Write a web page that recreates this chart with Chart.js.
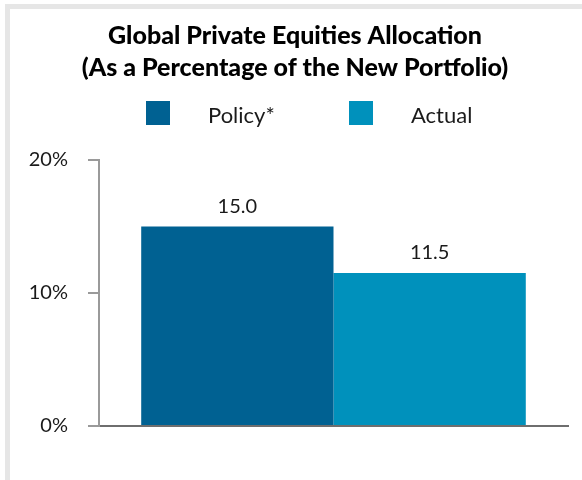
<!DOCTYPE html>
<html>
<head>
<meta charset="utf-8">
<script src="https://cdn.jsdelivr.net/npm/chart.js@4"></script>
<style>
  body { margin: 0; background: #fff; }
  .frame { position: absolute; left: 5px; top: 4px; width: 620px; height: 520px;
    border-left: 5px solid #e6e6e6; border-top: 5px solid #e6e6e6; }
  .wrap { position: absolute; left: 0; top: 0; width: 582px; height: 480px; }
</style>
</head>
<body>
<div class="frame"></div>
<div class="wrap"><canvas id="myChart" width="582" height="480"></canvas></div>
<script>
const categories = ['Global Private Equities']
const seriesNames = ['Policy*', 'Actual']
const policyValues = [15.0]
const actualValues = [11.5]
const yTicks = [0, 10, 20]
const titleLines = ['Global Private Equities Allocation', '(As a Percentage of the New Portfolio)']

const FONT = 'Lato'

// value labels above bars
const valueLabels = {
  id: 'valueLabels',
  afterDatasetsDraw(chart) {
    const ctx = chart.ctx
    ctx.save()
    ctx.font = `20px ${FONT}`
    ctx.fillStyle = '#1a1a1a'
    ctx.textAlign = 'center'
    ctx.textBaseline = 'alphabetic'
    chart.data.datasets.forEach((ds, i) => {
      chart.getDatasetMeta(i).data.forEach((bar, j) => {
        ctx.fillText(ds.data[j].toFixed(1), bar.x, bar.y - 14)
      })
    })
    ctx.restore()
  }
}

// legend drawn by hand so box/text spacing matches
const boxLegend = {
  id: 'boxLegend',
  afterDraw(chart) {
    const ctx = chart.ctx
    const xs = [146, 349]
    ctx.save()
    ctx.font = `22px ${FONT}`
    ctx.textBaseline = 'alphabetic'
    chart.data.datasets.forEach((ds, i) => {
      ctx.fillStyle = ds.backgroundColor
      ctx.fillRect(xs[i], 101, 24, 24)
      ctx.fillStyle = '#1a1a1a'
      ctx.fillText(ds.label, xs[i] + 62, 123)
    })
    ctx.restore()
  }
}

addEventListener('DOMContentLoaded', () => {
  const ctx = document.getElementById('myChart')

  new Chart(ctx, {
    type: 'bar',
    data: {
      labels: categories,
      datasets: [
        { label: seriesNames[0], data: policyValues, backgroundColor: '#006192' },
        { label: seriesNames[1], data: actualValues, backgroundColor: '#0091bc' }
      ]
    },
    options: {
      responsive: false,
      animation: false,
      barPercentage: 1,
      categoryPercentage: 0.82,
      layout: { padding: { left: 22, right: 14, top: 0, bottom: 54 } },
      plugins: {
        legend: { display: false },
        tooltip: { enabled: false },
        title: {
          display: true,
          text: titleLines,
          color: '#000',
          font: { family: FONT, size: 25, weight: 900, lineHeight: 32 / 25 },
          padding: { top: 20, bottom: 76 }
        }
      },
      scales: {
        x: {
          grid: { display: false, drawTicks: false, tickLength: 0 },
          ticks: { display: false },
          border: { color: '#6e6e6e', width: 2 }
        },
        y: {
          min: 0,
          max: 20,
          afterBuildTicks: (scale) => { scale.ticks = yTicks.map(v => ({ value: v })) },
          afterFit: (scale) => { scale.width = 99 - 22 },
          grid: { drawOnChartArea: false, drawTicks: true, tickLength: 11, color: '#9a9a9a', lineWidth: 2 },
          border: { color: '#9a9a9a', width: 2 },
          ticks: {
            padding: 20,
            color: '#1a1a1a',
            font: { family: FONT, size: 20 },
            callback: (v) => v + '%'
          }
        }
      }
    },
    plugins: [valueLabels, boxLegend]
  })
})
</script>
</body>
</html>
